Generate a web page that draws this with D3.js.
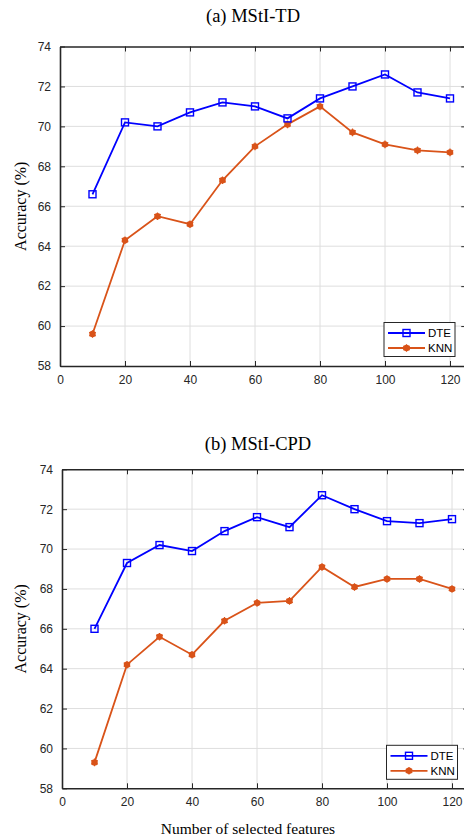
<!DOCTYPE html>
<html><head><meta charset="utf-8">
<script src="https://cdn.jsdelivr.net/npm/d3@7"></script>
<style>body{margin:0;background:#fff}svg{display:block}</style>
</head><body>
<svg id="c" width="464" height="839"></svg>
<script>
const features = [10,20,30,40,50,60,70,80,90,100,110,120];
const dteTD  = [66.6,70.2,70.0,70.7,71.2,71.0,70.4,71.4,72.0,72.6,71.7,71.4];
const knnTD  = [59.6,64.3,65.5,65.1,67.3,69.0,70.1,71.0,69.7,69.1,68.8,68.7];
const dteCPD = [66.0,69.3,70.2,69.9,70.9,71.6,71.1,72.7,72.0,71.4,71.3,71.5];
const knnCPD = [59.3,64.2,65.6,64.7,66.4,67.3,67.4,69.1,68.1,68.5,68.5,68.0];
const xTicks = [0,20,40,60,80,100,120];
const yTicks = [58,60,62,64,66,68,70,72,74];
const titles = ["(a) MStI-TD","(b) MStI-CPD"];
const seriesNames = ["DTE","KNN"];

const svg = d3.select("#c");
const BLUE = "#0000ff", ORANGE = "#D95319", AX = "#262626";

function panel(cfg){
  const g = svg.append("g");
  const x = d3.scaleLinear().domain([0,125]).range([cfg.left, cfg.left + 125*3.25]);
  const y = d3.scaleLinear().domain([58,74]).range([cfg.bottom, cfg.top]);
  const L = cfg.left, R = x(125), T = cfg.top, B = cfg.bottom;

  // grid
  g.append("g").selectAll("line").data(xTicks.slice(1)).join("line")
    .attr("x1",d=>x(d)).attr("x2",d=>x(d)).attr("y1",T).attr("y2",B)
    .attr("stroke","#dedede").attr("stroke-width",1);
  g.append("g").selectAll("line").data(yTicks.slice(1,-1)).join("line")
    .attr("x1",L).attr("x2",R).attr("y1",d=>y(d)).attr("y2",d=>y(d))
    .attr("stroke","#dedede").attr("stroke-width",1);

  // axes with inward ticks
  const fontTick = "Liberation Sans, Arial, sans-serif";
  const xb = g.append("g").attr("transform",`translate(0,${B})`)
    .call(d3.axisBottom(x).tickValues(xTicks).tickSizeInner(-5).tickSizeOuter(0).tickPadding(9));
  const xt = g.append("g").attr("transform",`translate(0,${T})`)
    .call(d3.axisTop(x).tickValues(xTicks).tickSizeInner(-5).tickSizeOuter(0).tickFormat(""));
  const yl = g.append("g").attr("transform",`translate(${L},0)`)
    .call(d3.axisLeft(y).tickValues(yTicks).tickSizeInner(-5).tickSizeOuter(0).tickPadding(9));
  const yr = g.append("g").attr("transform",`translate(${R},0)`)
    .call(d3.axisRight(y).tickValues(yTicks).tickSizeInner(-5).tickSizeOuter(0).tickFormat(""));
  [xb,xt,yl,yr].forEach(a=>{
    a.select(".domain").attr("stroke",AX).attr("stroke-width",1.6);
    a.selectAll(".tick line").attr("stroke",AX).attr("stroke-width",1);
    a.selectAll(".tick text").attr("fill",AX).style("font-family",fontTick).style("font-size","12px");
  });

  // lines
  const line = d3.line().x((d,i)=>x(features[i])).y(d=>y(d));
  g.append("path").datum(cfg.knn).attr("d",line).attr("fill","none")
    .attr("stroke",ORANGE).attr("stroke-width",1.8);
  g.append("path").datum(cfg.dte).attr("d",line).attr("fill","none")
    .attr("stroke",BLUE).attr("stroke-width",1.8);

  function knnMarker(sel){
    sel.append("circle").attr("r",3.2).attr("fill",ORANGE);
    sel.append("path").attr("d",d3.symbol(d3.symbolAsterisk,40)()).attr("stroke",ORANGE).attr("stroke-width",1.2).attr("fill","none");
  }
  function dteMarker(sel){
    sel.append("rect").attr("x",-3.5).attr("y",-3.5).attr("width",7).attr("height",7)
      .attr("fill","none").attr("stroke",BLUE).attr("stroke-width",1.4);
  }
  g.append("g").selectAll("g").data(cfg.knn).join("g")
    .attr("transform",(d,i)=>`translate(${x(features[i])},${y(d)})`).call(knnMarker);
  g.append("g").selectAll("g").data(cfg.dte).join("g")
    .attr("transform",(d,i)=>`translate(${x(features[i])},${y(d)})`).call(dteMarker);

  // title
  g.append("text").attr("x",cfg.titleX).attr("y",cfg.titleY).attr("text-anchor","middle")
    .style("font-family","Liberation Serif, Times New Roman, serif").style("font-size","18.5px")
    .attr("fill","#000").text(cfg.title);
  // y label
  g.append("text").attr("transform",`translate(${cfg.ylabX},${(T+B)/2}) rotate(-90)`)
    .attr("text-anchor","middle").attr("dominant-baseline","central")
    .style("font-family","Liberation Serif, Times New Roman, serif").style("font-size","16px")
    .attr("fill","#000").text("Accuracy (%)");

  // legend
  const lg = g.append("g").attr("transform",`translate(${cfg.legX},${cfg.legY})`);
  lg.append("rect").attr("x",0).attr("y",0).attr("width",71).attr("height",34)
    .attr("fill","#fff").attr("stroke",AX).attr("stroke-width",1);
  const items = [{n:seriesNames[0],c:BLUE,m:dteMarker,yy:10.5},{n:seriesNames[1],c:ORANGE,m:knnMarker,yy:25.5}];
  items.forEach(it=>{
    lg.append("line").attr("x1",4).attr("x2",41).attr("y1",it.yy).attr("y2",it.yy)
      .attr("stroke",it.c).attr("stroke-width",1.8);
    lg.append("g").attr("transform",`translate(22.5,${it.yy})`).call(it.m);
    lg.append("text").attr("x",44).attr("y",it.yy).attr("dominant-baseline","central")
      .style("font-family",fontTick).style("font-size","11.5px").attr("fill","#000").text(it.n);
  });
  return {x,y};
}

panel({left:60, top:46.5, bottom:366, dte:dteTD, knn:knnTD, title:titles[0], titleX:253, titleY:22, ylabX:20, legX:384, legY:322.5});
panel({left:62, top:469.3, bottom:788.3, dte:dteCPD, knn:knnCPD, title:titles[1], titleX:258, titleY:450, ylabX:20, legX:386.5, legY:745.3});

svg.append("text").attr("x",248).attr("y",834).attr("text-anchor","middle")
  .style("font-family","Liberation Serif, Times New Roman, serif").style("font-size","15.5px")
  .attr("fill","#000").text("Number of selected features");
</script>
</body></html>
